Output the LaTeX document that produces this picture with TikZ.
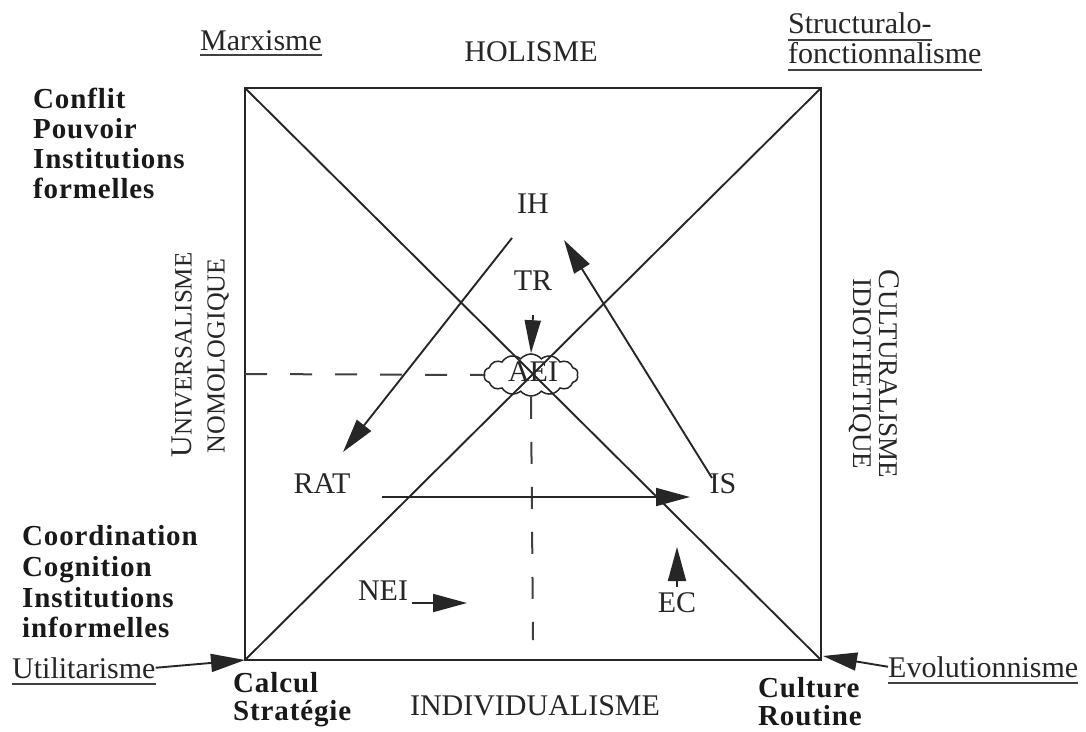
\documentclass[tikz,border=0pt]{standalone}
\usepackage{fontspec}
\setmainfont{Liberation Serif}
\newfontfamily\bsp{Liberation Serif}[LetterSpace=3]
\usetikzlibrary{arrows.meta,shapes.symbols}
\begin{document}
\begin{tikzpicture}[x=1pt,y=-1pt,
  txt/.style={inner sep=0pt, anchor=base west, font=\fontsize{30}{32}\selectfont, text=black!85},
  ctxt/.style={inner sep=0pt, anchor=base, font=\fontsize{30}{32}\selectfont, text=black!85},
  bld/.style={inner sep=0pt, anchor=base west, font=\bsp\bfseries\fontsize{29}{32}\selectfont, text=black!90},
  vtxt/.style={inner sep=0pt, anchor=center, text=black!85},
  frame/.style={line width=2.4pt, draw=black!85},
  diag/.style={line width=1.9pt, draw=black!85},
  dsh/.style={line width=2pt, draw=black!75, dash pattern=on 22pt off 23pt},
  arr/.style={line width=1.9pt, draw=black!85, -{Triangle[length=34pt,width=18pt]}},
  ul/.style={line width=2.2pt, draw=black!75}]
\useasboundingbox (0,0) rectangle (1086,731);

% square corners
\coordinate (tl) at (245,88);
\coordinate (tr) at (821,88);
\coordinate (br) at (821,660);
\coordinate (bl) at (245,660);
\draw[frame] (tl) -- (tr) -- (br) -- (bl) -- cycle;
\draw[diag] (tl) -- (br);
\draw[diag] (bl) -- (tr);

% cloud AEI
\node[cloud, draw=black!85, line width=1.5pt, cloud puffs=14, cloud puff arc=100, aspect=2.3,
      minimum width=94pt, minimum height=42pt, inner sep=0pt] (cl) at (531,375) {};
\node[ctxt] (aei) at (533,381) {AEI};

% dashed lines
\coordinate (dl) at (245,374);
\coordinate (dv) at (533,640);
\draw[dsh] (dl) -- (cl.west);
\draw[dsh] (cl.south) -- (dv);

% inner labels
\node[ctxt] (ih) at (533,213) {IH};
\node[ctxt] (trl) at (533,290) {TR};
\node[ctxt] (rat) at (322,493) {RAT};
\node[ctxt] (is) at (723,493) {IS};
\node[ctxt] (nei) at (383,600) {NEI};
\node[ctxt] (ec) at (677,612) {EC};

% arrows
\draw[line width=1.9pt, draw=black!85, -{Triangle[length=33pt,width=16pt]}] ([yshift=-25pt]trl.south) -- (cl.north);
\coordinate (a1s) at (512,238);
\coordinate (a1e) at (343,452);
\draw[arr] (a1s) -- (a1e);
\coordinate (a2s) at (712,478);
\coordinate (a2e) at (564,240);
\draw[arr] (a2s) -- (a2e);
\coordinate (a3s) at (382,497);
\coordinate (a3e) at (690,497);
\draw[arr] (a3s) -- (a3e);
\coordinate (a4s) at (412,603);
\coordinate (a4e) at (467,603);
\draw[arr] (a4s) -- (a4e);
\coordinate (a5s) at (677,587);
\coordinate (a5e) at (677,547);
\draw[arr] (a5s) -- (a5e);

% top labels
\node[txt] (mx) at (200,50) {Marxisme};
\draw[ul] ([yshift=-5pt]mx.base west) -- ([yshift=-5pt]mx.base east);
\node[ctxt] (hol) at (531,61) {HOLISME};
\node[txt] (st1) at (788,33) {Structuralo-};
\draw[ul] ([yshift=-7pt]st1.base west) -- ([yshift=-7pt]st1.base east);
\node[txt] (st2) at (788,63) {fonctionnalisme};
\draw[ul] ([yshift=-7pt]st2.base west) -- ([yshift=-7pt]st2.base east);

% left bold blocks
\node[bld] (c1) at (33,108) {Conflit};
\node[bld] (c2) at (33,138) {Pouvoir};
\node[bld] (c3) at (33,168) {Institutions};
\node[bld] (c4) at (33,198) {formelles};
\node[bld] (d1) at (22,545) {Coordination};
\node[bld] (d2) at (22,576) {Cognition};
\node[bld] (d3) at (22,607) {Institutions};
\node[bld] (d4) at (22,637) {informelles};

% vertical labels
\node[vtxt, rotate=90] (univ) at (182,355)
  {{\fontsize{30}{32}\selectfont U}{\fontsize{25}{30}\selectfont NIVERSALISME}};
\node[vtxt, rotate=90] (nomo) at (218,356)
  {\fontsize{26}{30}\selectfont NOMOLOGIQUE};
\node[vtxt, rotate=-90] (cult) at (889,374)
  {{\fontsize{30}{32}\selectfont C}{\fontsize{27}{30}\selectfont ULTURALISME}};
\node[vtxt, rotate=-90] (idio) at (860,374)
  {\fontsize{27}{30}\selectfont IDIOTHETIQUE};

% bottom labels
\node[txt] (ut) at (12,678) {Utilitarisme};
\draw[ul] ([yshift=-6pt]ut.base west) -- ([yshift=-6pt]ut.base east);
\draw[arr] (ut.east) -- (bl);
\node[txt] (ev) at (888,677) {Evolutionnisme};
\draw[ul] ([yshift=-6pt]ev.base west) -- ([yshift=-6pt]ev.base east);
\coordinate (brtip) at (823,656);
\draw[arr] (ev.west) -- (brtip);

\node[bld] (k1) at (233,692) {Calcul};
\node[bld] (k2) at (233,720) {Stratégie};
\node[ctxt] (ind) at (535,715) {INDIVIDUALISME};
\node[bld] (r1) at (758,697) {Culture};
\node[bld] (r2) at (758,725) {Routine};
\end{tikzpicture}
\end{document}
